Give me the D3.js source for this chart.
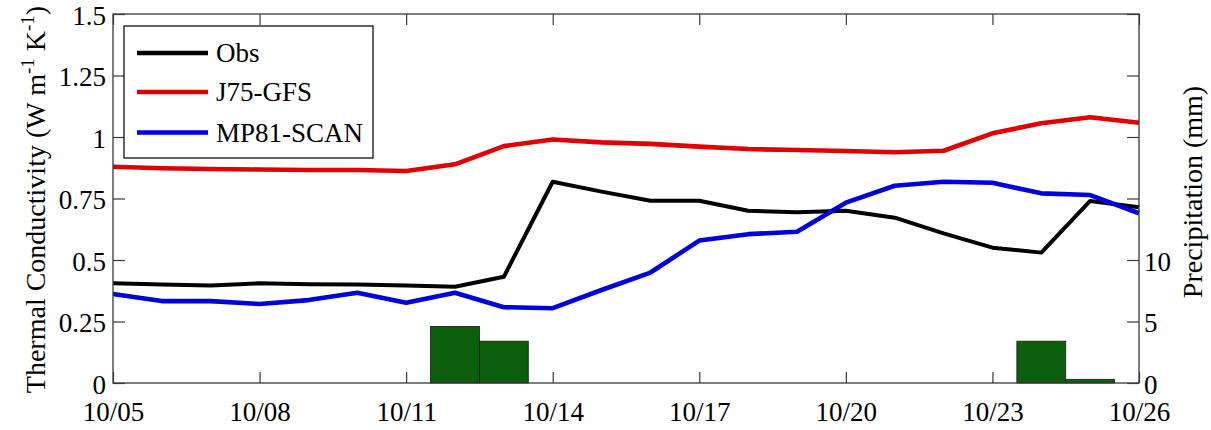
<!DOCTYPE html>
<html>
<head>
<meta charset="utf-8">
<script src="https://cdn.jsdelivr.net/npm/d3@7"></script>
<style>
  html, body { margin: 0; padding: 0; background: #fff; }
  svg { display: block; }
  text { font-family: "Liberation Serif", "Times New Roman", serif; fill: #000; }
</style>
</head>
<body>
<svg id="chart" width="1211" height="430"></svg>
<script>
// Daily series, 10/05 through 10/26
const days = ["10/05","10/06","10/07","10/08","10/09","10/10","10/11","10/12","10/13","10/14","10/15",
              "10/16","10/17","10/18","10/19","10/20","10/21","10/22","10/23","10/24","10/25","10/26"];
const obs   = [0.405,0.400,0.396,0.405,0.401,0.400,0.396,0.391,0.432,0.818,0.778,
               0.741,0.741,0.700,0.694,0.700,0.672,0.608,0.550,0.530,0.740,0.714];
const j75   = [0.879,0.873,0.870,0.868,0.866,0.866,0.862,0.889,0.963,0.990,0.978,
               0.972,0.961,0.951,0.947,0.943,0.938,0.944,1.015,1.056,1.080,1.058];
const mp81  = [0.362,0.333,0.333,0.321,0.337,0.367,0.326,0.367,0.308,0.304,0.378,
               0.449,0.579,0.605,0.615,0.733,0.802,0.818,0.814,0.771,0.764,0.690];
// Precipitation (mm) on the days it rained
const precipDays   = ["10/12","10/13","10/24","10/25"];
const precipValues = [4.6, 3.4, 3.4, 0.3];

const xTickLabels = ["10/05","10/08","10/11","10/14","10/17","10/20","10/23","10/26"];
const yTicks      = [0, 0.25, 0.5, 0.75, 1, 1.25, 1.5];
const yTickLabels = ["0","0.25","0.5","0.75","1","1.25","1.5"];
const y2Ticks     = [0, 5, 10, 15, 20, 25, 30];
const y2TickLabels= ["0","5","10","","","",""];

const seriesNames = ["Obs","J75-GFS","MP81-SCAN"];
const seriesColors = ["#000000","#e00000","#0000dd"];

const svg = d3.select("#chart");
const m = { left: 113, right: 1139, top: 14, bottom: 383 };
const FONT = "'Liberation Serif', 'Times New Roman', serif";

const x = d3.scaleLinear().domain([0, days.length - 1]).range([m.left, m.right]);
const y = d3.scaleLinear().domain([0, 1.5]).range([m.bottom, m.top]);
const y2 = d3.scaleLinear().domain([0, 30]).range([m.bottom, m.top]);
const dayIdx = d => days.indexOf(d);
const dayW = x(1) - x(0);

// Precipitation bars (right axis)
svg.append("g").selectAll("rect")
  .data(precipDays.map((d, i) => ({ d, v: precipValues[i] })))
  .join("rect")
  .attr("x", p => x(dayIdx(p.d)) - dayW / 2)
  .attr("width", dayW)
  .attr("y", p => y2(p.v))
  .attr("height", p => y2(0) - y2(p.v))
  .attr("fill", "#0b5e0b")
  .attr("stroke", "#1a1a1a")
  .attr("stroke-width", 0.8);

// Conductivity lines (left axis)
const line = d3.line().x((v, i) => x(i)).y(v => y(v));
[obs, j75, mp81].forEach((s, k) => {
  svg.append("path")
    .attr("d", line(s))
    .attr("fill", "none")
    .attr("stroke", seriesColors[k])
    .attr("stroke-width", k === 0 ? 4 : 4.6)
    .attr("stroke-linejoin", "round");
});

// Frame
svg.append("rect")
  .attr("x", m.left).attr("y", m.top)
  .attr("width", m.right - m.left).attr("height", m.bottom - m.top)
  .attr("fill", "none").attr("stroke", "#3a3a3a").attr("stroke-width", 1.3);

const tickIdx = xTickLabels.map(dayIdx);
const fs = 27;

// Bottom axis (ticks pointing inward)
const xb = svg.append("g").attr("transform", `translate(0,${m.bottom})`)
  .call(d3.axisBottom(x).tickValues(tickIdx).tickSize(-11).tickPadding(0)
    .tickFormat((d, i) => xTickLabels[i]));
xb.attr("font-family", null);
xb.select(".domain").remove();
xb.selectAll(".tick line").attr("stroke", "#3a3a3a").attr("stroke-width", 1.2);
xb.selectAll(".tick text").attr("y", 38).attr("dy", null)
  .style("font-size", fs + "px").style("font-family", FONT);

// Top axis mirror ticks
const xt = svg.append("g").attr("transform", `translate(0,${m.top})`)
  .call(d3.axisTop(x).tickValues(tickIdx).tickSize(-11).tickFormat(""));
xt.select(".domain").remove();
xt.selectAll(".tick line").attr("stroke", "#3a3a3a").attr("stroke-width", 1.2);

// Left axis
const yl = svg.append("g").attr("transform", `translate(${m.left},0)`)
  .call(d3.axisLeft(y).tickValues(yTicks).tickSize(-12).tickPadding(0)
    .tickFormat((d, i) => yTickLabels[i]));
yl.attr("font-family", null);
yl.select(".domain").remove();
yl.selectAll(".tick line").attr("stroke", "#3a3a3a").attr("stroke-width", 1.2);
yl.selectAll(".tick text").attr("x", -7).attr("dy", null).attr("y", 10)
  .style("font-size", fs + "px").style("font-family", FONT);

// Right axis
const yr = svg.append("g").attr("transform", `translate(${m.right},0)`)
  .call(d3.axisRight(y2).tickValues(y2Ticks).tickSize(-12).tickPadding(0)
    .tickFormat((d, i) => y2TickLabels[i]));
yr.attr("font-family", null);
yr.select(".domain").remove();
yr.selectAll(".tick line").attr("stroke", "#3a3a3a").attr("stroke-width", 1.2);
yr.selectAll(".tick text").attr("x", 5).attr("dy", null).attr("y", 10)
  .style("font-size", fs + "px").style("font-family", FONT);

// Axis titles
const yTitle = svg.append("text")
  .attr("transform", `translate(45,${(m.top + m.bottom) / 2 + 1}) rotate(-90)`)
  .attr("text-anchor", "middle")
  .style("font-size", "28px");
yTitle.append("tspan").text("Thermal Conductivity (W m");
yTitle.append("tspan").attr("dy", -11).style("font-size", "19px").text("-1");
yTitle.append("tspan").attr("dy", 11).text(" K");
yTitle.append("tspan").attr("dy", -11).style("font-size", "19px").text("-1");
yTitle.append("tspan").attr("dy", 11).text(")");

svg.append("text")
  .attr("transform", `translate(1202,192) rotate(-90)`)
  .attr("text-anchor", "middle")
  .style("font-size", "28px")
  .text("Precipitation (mm)");

// Legend
const lg = svg.append("g");
lg.append("rect")
  .attr("x", 124).attr("y", 26).attr("width", 249).attr("height", 132)
  .attr("fill", "#fff").attr("stroke", "#000").attr("stroke-width", 1.2);
const rowY = [53, 92, 132.5];
seriesNames.forEach((name, k) => {
  lg.append("line")
    .attr("x1", 137).attr("x2", 208).attr("y1", rowY[k]).attr("y2", rowY[k])
    .attr("stroke", seriesColors[k]).attr("stroke-width", 4.6);
  lg.append("text")
    .attr("x", 216).attr("y", rowY[k] + 9)
    .style("font-size", fs + "px")
    .text(name);
});
</script>
</body>
</html>
